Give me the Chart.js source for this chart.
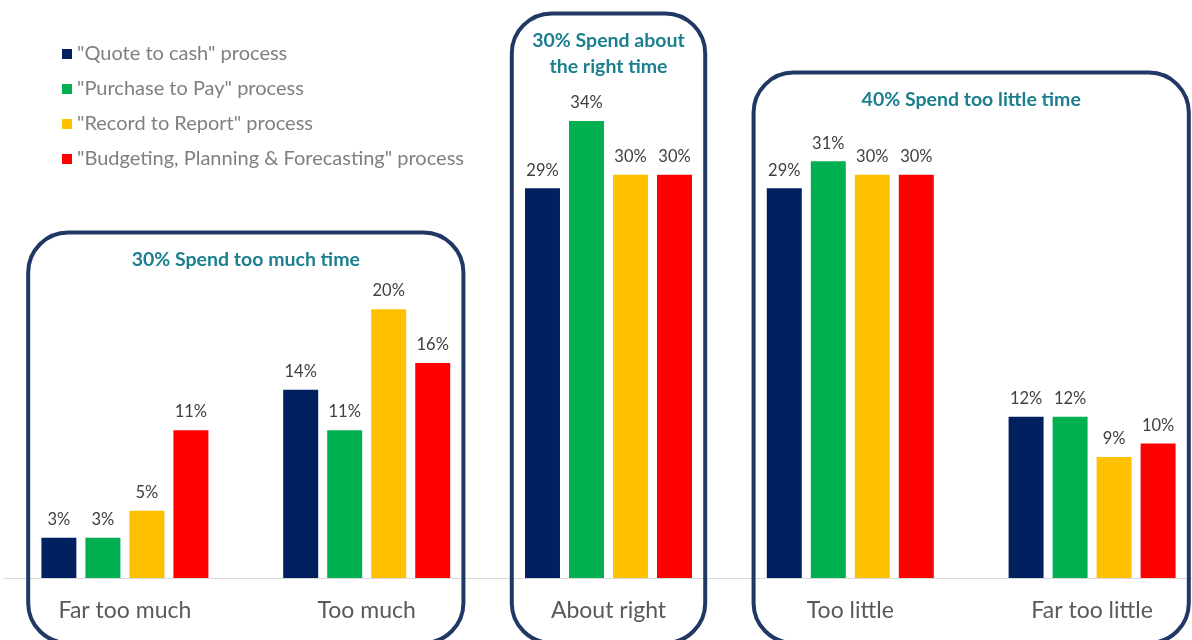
<!DOCTYPE html>
<html>
<head>
<meta charset="utf-8">
<script src="https://cdn.jsdelivr.net/npm/chart.js@4.4.1/dist/chart.umd.min.js"></script>
<style>
  html, body { margin: 0; padding: 0; background: #fff; overflow: hidden; }
  #wrap { position: relative; width: 1213px; height: 640px; }
  #legend { position: absolute; left: 62px; top: 39px; font-family: Lato, "Open Sans", sans-serif; font-size: 20px; color: #7f7f7f; }
  #legend div { height: 35px; line-height: 26px; white-space: nowrap; }
  #legend span { display: inline-block; width: 10px; height: 10px; margin-right: 5px; vertical-align: 1px; }
</style>
</head>
<body>
<div id="wrap">
  <canvas id="chartTime"></canvas>
  <div id="legend"></div>
</div>
<script>
var categories = ['Far too much', 'Too much', 'About right', 'Too little', 'Far too little'];
var seriesNames = ['"Quote to cash" process', '"Purchase to Pay" process', '"Record to Report" process', '"Budgeting, Planning & Forecasting" process'];
var quoteToCash    = [3, 14, 29, 29, 12];
var purchaseToPay  = [3, 11, 34, 31, 12];
var recordToReport = [5, 20, 30, 30, 9];
var budgeting      = [11, 16, 30, 30, 10];
var seriesColors = ['#002060', '#00b050', '#ffc000', '#ff0000'];

// rounded frames around category groups: first/last category, top (in % units), title lines
var groupSpans  = [[0, 1], [2, 2], [3, 4]];
var groupTops   = [25.7, 42, 37.6];
var groupTitles = [['30% Spend too much time'], ['30% Spend about', 'the right time'], ['40% Spend too little time']];

var allSeries = [quoteToCash, purchaseToPay, recordToReport, budgeting];

// legend
var legendEl = document.getElementById('legend');
seriesNames.forEach(function(name, i){
    var row = document.createElement('div');
    var sw = document.createElement('span');
    sw.style.background = seriesColors[i];
    row.appendChild(sw);
    row.appendChild(document.createTextNode(name));
    legendEl.appendChild(row);
});

var groupFrames = {
    id: 'groupFrames',
    afterDraw: function(chart){
        var ctx = chart.ctx;
        var xs = chart.scales.x, ys = chart.scales.y;
        var band = xs.getPixelForValue(1) - xs.getPixelForValue(0);
        var pad = band * 0.4;
        var bottom = 643, r = 40;
        ctx.save();
        groupSpans.forEach(function(span, g){
            var left = xs.getPixelForValue(span[0]) - pad;
            var right = xs.getPixelForValue(span[1]) + pad;
            var top = ys.getPixelForValue(groupTops[g]);
            ctx.beginPath();
            ctx.roundRect(left, top, right - left, bottom - top, r);
            ctx.lineWidth = 4;
            ctx.strokeStyle = '#203864';
            ctx.stroke();
            ctx.fillStyle = '#1b7f8f';
            ctx.font = 'bold 19.5px Lato, "Open Sans", sans-serif';
            ctx.textAlign = 'center';
            ctx.textBaseline = 'middle';
            groupTitles[g].forEach(function(line, k){
                ctx.fillText(line, (left + right) / 2, top + 27 + k * 26);
            });
        });
        ctx.restore();
    }
};

var barValueLabels = {
    id: 'barValueLabels',
    afterDatasetsDraw: function(chart){
        var ctx = chart.ctx;
        ctx.save();
        ctx.font = '16.5px Lato, "Open Sans", sans-serif';
        ctx.fillStyle = '#404040';
        ctx.textAlign = 'center';
        ctx.textBaseline = 'middle';
        chart.data.datasets.forEach(function(ds, i){
            chart.getDatasetMeta(i).data.forEach(function(bar, j){
                ctx.fillText(ds.data[j] + '%', bar.x, bar.y - 18);
            });
        });
        ctx.restore();
    }
};

var ctxB = document.getElementById('chartTime').getContext('2d');
var myBarChart = new Chart(ctxB, {
    type: 'bar',
    data: {
        labels: categories,
        datasets: allSeries.map(function(vals, i){
            return {
                label: seriesNames[i],
                data: vals,
                backgroundColor: seriesColors[i],
                borderWidth: 0,
                categoryPercentage: 0.728,
                barPercentage: 0.795
            };
        })
    },
    options: {
        responsive: true,
        maintainAspectRatio: false,
        animation: false,
        layout: { padding: { left: 4, right: 0, top: 0, bottom: 0 } },
        plugins: { legend: { display: false }, tooltip: { enabled: false } },
        scales: {
            x: {
                grid: { display: false, drawTicks: false },
                border: { display: true, color: '#d9d9d9', width: 1 },
                ticks: { color: '#595959', font: { family: 'Lato, "Open Sans", sans-serif', size: 23 }, padding: 19 },
                afterFit: function(scale){ scale.height = 62; }
            },
            y: { display: false, min: 0, max: 43 }
        }
    },
    plugins: [groupFrames, barValueLabels]
});
</script>
</body>
</html>
